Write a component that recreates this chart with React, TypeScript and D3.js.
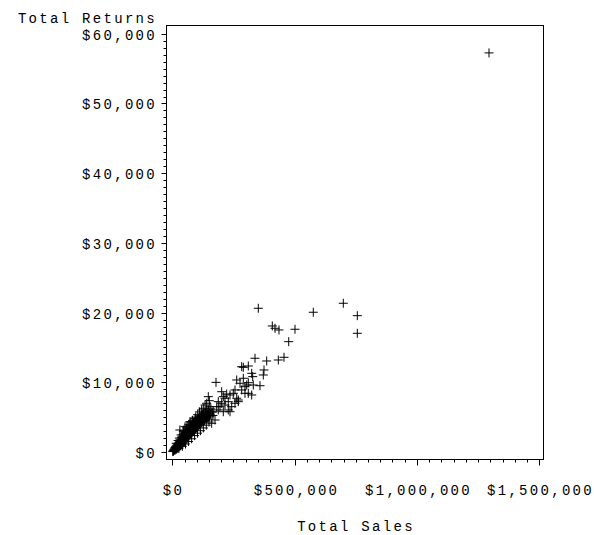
import React from "react";
import * as d3 from "d3";

// [total sales, total returns]
const denseStores: [number, number][] = [
  [2000, 60], [3500, 180], [5000, 120], [6000, 310], [7500, 240], [8000, 420],
  [9500, 330], [10000, 560], [11500, 280], [12000, 650], [13000, 420], [14000, 780],
  [15000, 520], [16000, 380], [17000, 900], [18000, 640], [19000, 470], [20000, 1050],
  [21000, 760], [22000, 560], [23000, 1180], [24000, 880], [25000, 690], [26000, 1320],
  [27000, 980], [28000, 760], [29000, 1450], [30000, 1100], [31000, 3160], [31500, 850],
  [32000, 1560], [33000, 1230], [34000, 960], [35000, 1700], [36000, 1350], [37000, 1080],
  [38000, 2100], [38500, 1480], [39000, 1820], [40000, 1190], [41000, 1960], [42000, 1620],
  [43000, 2450], [43500, 1300], [44000, 1750], [45000, 2120], [46000, 1450], [47000, 1880],
  [48000, 2600], [48500, 2260], [49000, 1580], [50000, 2000], [51000, 2380], [52000, 3630],
  [52500, 1720], [53000, 2150], [54000, 2820], [55000, 2480], [56000, 1880], [57000, 2290],
  [58000, 2950], [59000, 2620], [60000, 2050], [61000, 2430], [62000, 3150], [63000, 2750],
  [64000, 2200], [65000, 2580], [66000, 3320], [67000, 2900], [68000, 2350], [69000, 2720],
  [70000, 3480], [71000, 3050], [72000, 4350], [72500, 2500], [73000, 2880], [74000, 3620],
  [75000, 3200], [76000, 2650], [77000, 3020], [78000, 3800], [79000, 3350], [80000, 2800],
  [81000, 3180], [82000, 3950], [83000, 3500], [84000, 2950], [85000, 3330], [86000, 4100],
  [87000, 3650], [88000, 3100], [89000, 3480], [90000, 4280], [91000, 3800], [92000, 3250],
  [93000, 4830], [93500, 3620], [94000, 4420], [95000, 3950], [96000, 3400], [97000, 3770],
  [98000, 4580], [99000, 4100], [100000, 3550], [101000, 3920], [102000, 4720], [103000, 4250],
  [104000, 3700], [105000, 4080], [107000, 4900], [108000, 4400], [109000, 3860], [110000, 4230],
  [112000, 5050], [113000, 4560], [114000, 4020], [116000, 4400], [117000, 5200], [118000, 4720],
  [120000, 6030], [120500, 4180], [122000, 4560], [123000, 5380], [124000, 4880], [126000, 4350],
  [128000, 4730], [129000, 5550], [130000, 5040], [132000, 4520], [134000, 4900], [135000, 5700],
  [136000, 5200], [138000, 4700], [140000, 5080], [141000, 5850], [143000, 5370], [145000, 4870],
  [147000, 5250], [149000, 6020], [151000, 5540], [153000, 5050], [156000, 5430], [158000, 6180],
  [161000, 4120], [163000, 5720], [166000, 5240], [134000, 6740], [154000, 6500],
  [24000, 1650], [36000, 2450], [47000, 3050], [58000, 3450], [67000, 3900], [83000, 4550],
  [104000, 5350], [111000, 5750],
  [27000, 480], [41000, 820], [54000, 1150], [66000, 1500], [79000, 1900], [91000, 2350],
  [103000, 2700], [115000, 3050], [127000, 3450], [139000, 3850], [150000, 4300],
  [16000, 1250], [29000, 2000], [45000, 2900], [61000, 3700], [76000, 4300], [96000, 5000],
];

const spreadStores: [number, number][] = [
  [1294700, 57260], [351600, 20620], [576400, 20050], [699100, 21340], [756300, 19560],
  [756300, 17030], [408800, 18080], [419900, 17750], [436200, 17510], [501600, 17610],
  [475900, 15830], [456700, 13590], [433400, 13200], [338100, 13450], [385900, 13060],
  [290300, 12150], [310700, 12340], [374900, 11770], [372000, 11050], [328700, 10810],
  [263300, 10330], [290300, 10580], [297200, 9370], [358500, 9510], [256300, 8900],
  [310700, 8420], [324600, 8180], [263300, 7710], [178700, 9990], [283700, 12240],
  [324600, 11290], [310700, 9940], [331100, 9610], [249400, 8420], [235900, 8180],
  [215400, 7710], [269800, 7460], [151300, 7360], [202000, 6990], [181500, 6500],
  [167600, 5780], [188000, 6030], [228900, 6030], [174600, 4590], [276800, 9860],
  [304200, 9610], [283700, 8900], [297200, 8420], [256300, 6990], [202000, 8650],
  [222400, 8320], [208500, 7940], [147200, 7940], [188000, 7220], [228900, 7220],
  [215400, 6740], [195000, 6500], [242800, 6500], [140600, 6990], [126700, 6270],
  [147200, 6030], [235900, 5780], [208500, 5780], [269800, 7220],
];

const stores = [...denseStores, ...spreadStores];

const xTicks = [0, 500000, 1000000, 1500000];
const yTicks = [0, 10000, 20000, 30000, 40000, 50000, 60000];

const font = "'Liberation Mono', 'Courier New', monospace";

export default function App() {
  const width = 594;
  const height = 535;
  const left = 166.5;
  const right = 543.5;
  const top = 25.5;
  const bottom = 459.5;

  const x = d3.scaleLinear().domain([-23700, 1517500]).range([left, right]);
  const y = d3.scaleLinear().domain([-1076, 61190]).range([bottom, top]);
  const fmt = d3.format("$,");

  const yMinor = d3.range(0, 60001, 1000).filter((v) => v % 10000 !== 0);
  const xMinor = d3.range(0, 1500001, 50000).filter((v) => v % 500000 !== 0);

  const textStyle: React.CSSProperties = {
    fontFamily: font,
    fontSize: 14,
    letterSpacing: 2.3,
  };

  return (
    <svg
      width={width}
      height={height}
      style={{ position: "absolute", left: 0, top: 0, background: "#fff" }}
    >
      <rect
        x={left}
        y={top}
        width={right - left}
        height={bottom - top}
        fill="none"
        stroke="#000"
        strokeWidth={1}
      />
      {/* y axis ticks */}
      {yTicks.map((t) => {
        const py = Math.round(y(t)) + 0.5;
        return (
          <g key={"y" + t}>
            <line x1={left - 5} x2={left} y1={py} y2={py} stroke="#000" />
            <text x={157} y={py + 5} textAnchor="end" style={textStyle}>
              {fmt(t)}
            </text>
          </g>
        );
      })}
      {yMinor.map((t) => {
        const py = Math.round(y(t)) + 0.5;
        return (
          <line key={"ym" + t} x1={left - 3} x2={left} y1={py} y2={py} stroke="#000" />
        );
      })}
      {/* x axis ticks */}
      {xTicks.map((t) => {
        const px = Math.round(x(t)) + 0.5;
        return (
          <g key={"x" + t}>
            <line x1={px} x2={px} y1={bottom} y2={bottom + 6} stroke="#000" />
            <text x={px + 1} y={495} textAnchor="middle" style={textStyle}>
              {fmt(t)}
            </text>
          </g>
        );
      })}
      {xMinor.map((t) => {
        const px = Math.round(x(t)) + 0.5;
        return (
          <line key={"xm" + t} x1={px} x2={px} y1={bottom} y2={bottom + 3} stroke="#000" />
        );
      })}
      <text x={157} y={23} textAnchor="end" style={textStyle}>
        Total Returns
      </text>
      <text x={(left + right) / 2 + 1} y={531} textAnchor="middle" style={textStyle}>
        Total Sales
      </text>
      {/* points */}
      <g stroke="#000" strokeWidth={1} fill="none">
        {stores.map(([s, r], i) => {
          const px = x(s);
          const py = y(r);
          return (
            <path
              key={i}
              d={`M${px - 4.5},${py}H${px + 4.5}M${px},${py - 4.5}V${py + 4.5}`}
            />
          );
        })}
      </g>
    </svg>
  );
}
